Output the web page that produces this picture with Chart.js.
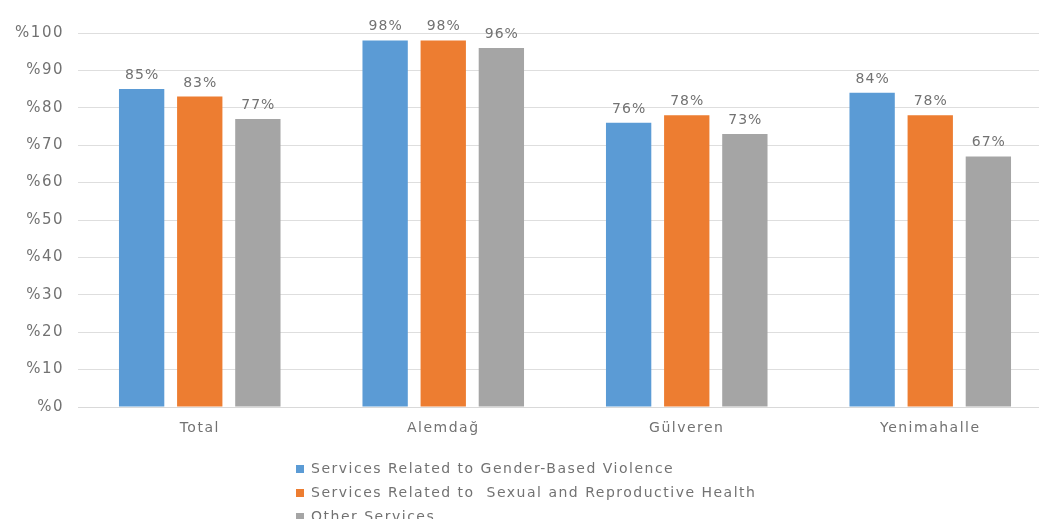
<!DOCTYPE html>
<html>
<head>
<meta charset="utf-8">
<script src="https://cdn.jsdelivr.net/npm/chart.js@4.4.0/dist/chart.umd.min.js"></script>
<style>
  html, body { margin: 0; padding: 0; background: #fff; overflow: hidden; }
  #wrap { width: 1052px; height: 519px; }
</style>
</head>
<body>
<div id="wrap"><canvas id="serviceChart" width="1052" height="519"></canvas></div>
<script>
// Share of clients satisfied, by district and service type
const districts = ["Total", "Alemdağ", "Gülveren", "Yenimahalle"];
const seriesNames = [
    "Services Related to Gender-Based Violence",
    "Services Related to  Sexual and Reproductive Health",
    "Other Services"
];
const genderViolence = [85, 98, 76, 84];
const reproductiveHealth = [83, 98, 78, 78];
const otherServices = [77, 96, 73, 67];
const seriesColors = ["#5b9bd5", "#ed7d31", "#a5a5a5"];

const textColor = "#727272";
const fontFamily = '"DejaVu Sans", sans-serif';

// the wide, loosely spaced axis lettering
const wideText = {
    id: "wideText",
    beforeUpdate(chart) { chart.ctx.letterSpacing = "1.5px"; },
    beforeDraw(chart) { chart.ctx.letterSpacing = "1.5px"; }
};

// percent labels above each bar
const barLabels = {
    id: "barLabels",
    afterDatasetsDraw(chart) {
        const ctx = chart.ctx;
        ctx.save();
        ctx.letterSpacing = "1px";
        ctx.font = "14px " + fontFamily;
        ctx.fillStyle = textColor;
        ctx.textAlign = "center";
        ctx.textBaseline = "alphabetic";
        chart.data.datasets.forEach(function (ds, i) {
            chart.getDatasetMeta(i).data.forEach(function (bar, j) {
                ctx.fillText(ds.data[j] + "%", bar.x + 0.5, bar.y - 10);
            });
        });
        ctx.restore();
    }
};

// stacked legend under the x axis (last row runs off the bottom edge)
const stackedLegend = {
    id: "stackedLegend",
    afterDraw(chart) {
        const ctx = chart.ctx;
        ctx.save();
        ctx.letterSpacing = "1.5px";
        ctx.font = "14px " + fontFamily;
        ctx.textBaseline = "middle";
        ctx.textAlign = "left";
        chart.data.datasets.forEach(function (ds, i) {
            const y = 469 + i * 24;
            ctx.fillStyle = ds.backgroundColor;
            ctx.fillRect(296, y - 4, 8, 8);
            ctx.fillStyle = textColor;
            ctx.fillText(ds.label, 311, y);
        });
        ctx.restore();
    }
};

const datasets = [genderViolence, reproductiveHealth, otherServices].map(function (values, i) {
    return {
        label: seriesNames[i],
        data: values,
        backgroundColor: seriesColors[i],
        barPercentage: 0.78,
        categoryPercentage: 0.716
    };
});

new Chart(document.getElementById("serviceChart").getContext("2d"), {
    type: "bar",
    data: { labels: districts, datasets: datasets },
    plugins: [wideText, barLabels, stackedLegend],
    options: {
        responsive: false,
        animation: false,
        devicePixelRatio: 1,
        layout: { padding: { top: 33, right: 0, bottom: 82, left: 0 } },
        plugins: {
            legend: { display: false },
            tooltip: { enabled: false }
        },
        scales: {
            x: {
                grid: { display: false, drawTicks: false },
                border: { color: "#d9d9d9" },
                ticks: { color: textColor, font: { family: fontFamily, size: 14 }, padding: 13 },
                afterFit: function (scale) { scale.height = 30; }
            },
            y: {
                min: 0,
                max: 100,
                ticks: {
                    stepSize: 10,
                    color: textColor,
                    font: { family: fontFamily, size: 15 },
                    padding: 14,
                    callback: function (v) { return "%" + v; }
                },
                grid: { color: "#dedede", drawTicks: false },
                border: { display: false },
                afterFit: function (scale) { scale.width = 78; }
            }
        }
    }
});
</script>
</body>
</html>
